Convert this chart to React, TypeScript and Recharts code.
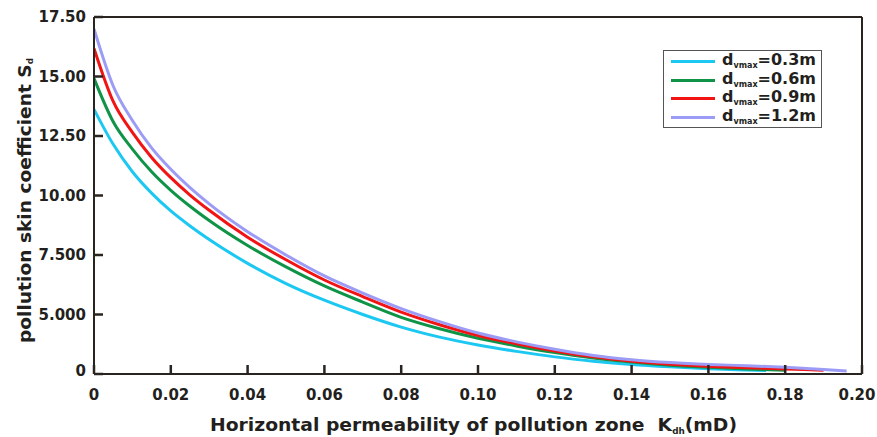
import React from 'react';
import { LineChart, Line, XAxis, YAxis, Legend, Label, ReferenceLine } from 'recharts';

// ---- axis ticks ----
const X_TICKS = [0, 0.02, 0.04, 0.06, 0.08, 0.1, 0.12, 0.14, 0.16, 0.18, 0.2];
const X_TICK_LABELS = ['0', '0.02', '0.04', '0.06', '0.08', '0.10', '0.12', '0.14', '0.16', '0.18', '0.20'];
const Y_TICKS = [2.5, 5, 7.5, 10, 12.5, 15, 17.5];
const Y_TICK_LABELS = ['0', '5.000', '7.500', '10.00', '12.50', '15.00', '17.50'];

// ---- series: Kdh (mD) and Sd ----
const K_03 = [0, 0.005, 0.01, 0.015, 0.02, 0.025, 0.03, 0.04, 0.05, 0.06, 0.07, 0.08, 0.09, 0.1, 0.11, 0.12, 0.13, 0.14, 0.15, 0.16, 0.17, 0.175];
const S_03 = [13.62, 12.15, 11.0, 10.1, 9.35, 8.72, 8.15, 7.15, 6.3, 5.6, 5.0, 4.47, 4.05, 3.72, 3.45, 3.22, 3.04, 2.9, 2.8, 2.72, 2.67, 2.65];

const K_06 = [0, 0.005, 0.01, 0.015, 0.02, 0.025, 0.03, 0.04, 0.05, 0.06, 0.07, 0.08, 0.09, 0.1, 0.11, 0.12, 0.13, 0.14, 0.15, 0.16, 0.17, 0.18];
const S_06 = [14.92, 13.1, 11.95, 11.0, 10.22, 9.55, 8.95, 7.9, 7.0, 6.2, 5.52, 4.88, 4.4, 4.0, 3.68, 3.4, 3.17, 3.0, 2.87, 2.78, 2.71, 2.66];

const K_09 = [0, 0.005, 0.01, 0.015, 0.02, 0.025, 0.03, 0.04, 0.05, 0.06, 0.07, 0.08, 0.09, 0.1, 0.11, 0.12, 0.13, 0.14, 0.15, 0.16, 0.17, 0.18, 0.19];
const S_09 = [16.18, 13.95, 12.65, 11.6, 10.75, 10.02, 9.38, 8.25, 7.3, 6.45, 5.75, 5.1, 4.57, 4.12, 3.77, 3.47, 3.22, 3.04, 2.91, 2.82, 2.76, 2.71, 2.66];

const K_12 = [0, 0.005, 0.01, 0.015, 0.02, 0.025, 0.03, 0.04, 0.05, 0.06, 0.07, 0.08, 0.09, 0.1, 0.11, 0.12, 0.13, 0.14, 0.15, 0.16, 0.17, 0.18, 0.19, 0.196];
const S_12 = [17.0, 14.6, 13.15, 12.0, 11.1, 10.33, 9.65, 8.48, 7.5, 6.62, 5.9, 5.25, 4.7, 4.22, 3.85, 3.54, 3.28, 3.1, 2.98, 2.9, 2.85, 2.78, 2.69, 2.63];

const LEGEND_VALUES = ['0.3m', '0.6m', '0.9m', '1.2m'];
const COLORS = ['#1cc8f2', '#0f9447', '#f21414', '#9c9cf6'];

const toPoints = (k: number[], s: number[]) => k.map((x, i) => ({ x, y: s[i] }));
const SERIES = [
  { name: 'dvmax=0.3m', data: toPoints(K_03, S_03), color: COLORS[0], label: LEGEND_VALUES[0] },
  { name: 'dvmax=0.6m', data: toPoints(K_06, S_06), color: COLORS[1], label: LEGEND_VALUES[1] },
  { name: 'dvmax=0.9m', data: toPoints(K_09, S_09), color: COLORS[2], label: LEGEND_VALUES[2] },
  { name: 'dvmax=1.2m', data: toPoints(K_12, S_12), color: COLORS[3], label: LEGEND_VALUES[3] },
];

const AXIS = '#2a2421';
const TEXT = '#231f1d';
const FONT = '"DejaVu Sans", sans-serif';
const X_MARGIN = 15;
const Y_MARGIN = 8;

const XTick = (props: any) => {
  const { x, y, payload } = props;
  const axisY = y - X_MARGIN;
  const idx = X_TICKS.findIndex((t) => Math.abs(t - payload.value) < 1e-9);
  const last = idx === X_TICKS.length - 1;
  return (
    <g>
      <line x1={x} x2={x} y1={axisY} y2={axisY - 9} stroke={AXIS} strokeWidth={2.5} />
      <text x={last ? x - 5 : x} y={y} dy="0.71em" textAnchor="middle" fontFamily={FONT} fontWeight="bold" fontSize={15} fill={TEXT}>
        {idx >= 0 ? X_TICK_LABELS[idx] : ''}
      </text>
    </g>
  );
};

const YTick = (props: any) => {
  const { x, y, payload } = props;
  const axisX = x + Y_MARGIN;
  const idx = Y_TICKS.findIndex((t) => Math.abs(t - payload.value) < 1e-9);
  return (
    <g>
      <line x1={axisX} x2={axisX + 9} y1={y} y2={y} stroke={AXIS} strokeWidth={2.5} />
      <text x={x} y={idx === 0 ? y - 3 : y} dy="0.36em" textAnchor="end" fontFamily={FONT} fontWeight="bold" fontSize={15} fill={TEXT}>
        {idx >= 0 ? Y_TICK_LABELS[idx] : ''}
      </text>
    </g>
  );
};

const XTitle = () => (
  <text x={210} y={431} textLength={527} lengthAdjust="spacingAndGlyphs" fontFamily={FONT} fontWeight="bold" fontSize={17} fill={TEXT}>
    Horizontal permeability of pollution zone{'\u00a0\u00a0'}K
    <tspan fontSize={8} dy={3}>dh</tspan>
    <tspan dy={-3}>(mD)</tspan>
  </text>
);

const YTitle = () => (
  <text
    x={0}
    y={0}
    transform="translate(31,343) rotate(-90)"
    textLength={285}
    lengthAdjust="spacingAndGlyphs"
    fontFamily={FONT}
    fontWeight="bold"
    fontSize={17}
    fill={TEXT}
  >
    pollution skin coefficient S
    <tspan fontSize={8} dy={2}>d</tspan>
  </text>
);

const LegendBox = () => (
  <div
    style={{
      border: '1.5px solid #555',
      background: '#fff',
      width: 159,
      height: 78,
      boxSizing: 'border-box',
      padding: '1px 0 0 7px',
      fontFamily: FONT,
    }}
  >
    {SERIES.map((s) => (
      <div key={s.name} style={{ display: 'flex', alignItems: 'center', height: 18.7 }}>
        <span style={{ display: 'inline-block', width: 44, height: 3, background: s.color, marginRight: 7 }} />
        <span style={{ fontWeight: 'bold', fontSize: 16, color: TEXT, whiteSpace: 'nowrap', lineHeight: '18px' }}>
          d<span style={{ fontSize: 8, position: 'relative', top: 3 }}>vmax</span>={s.label}
        </span>
      </div>
    ))}
  </div>
);

export default function App() {
  return (
    <div style={{ position: 'absolute', left: 0, top: 0, width: 877, height: 437, background: '#fff' }}>
      <LineChart width={877} height={437} margin={{ top: 17, right: 15, left: 34, bottom: 0 }}>
        <XAxis
          dataKey="x"
          type="number"
          domain={[0, 0.2]}
          ticks={X_TICKS}
          interval={0}
          height={63}
          tickSize={0}
          tickMargin={X_MARGIN}
          tick={<XTick />}
          tickLine={false}
          axisLine={{ stroke: AXIS, strokeWidth: 2 }}
          allowDataOverflow
        >
          <Label content={<XTitle />} />
        </XAxis>
        <YAxis
          type="number"
          domain={[2.5, 17.5]}
          ticks={Y_TICKS}
          interval={0}
          width={60}
          tickSize={0}
          tickMargin={Y_MARGIN}
          tick={<YTick />}
          tickLine={false}
          axisLine={{ stroke: AXIS, strokeWidth: 2 }}
          allowDataOverflow
        >
          <Label content={<YTitle />} />
        </YAxis>
        <ReferenceLine y={17.5} stroke={AXIS} strokeWidth={2} ifOverflow="visible" />
        <ReferenceLine x={0.2} stroke={AXIS} strokeWidth={2} ifOverflow="visible" />
        <Legend
          layout="vertical"
          align="center"
          verticalAlign="middle"
          content={<LegendBox />}
          wrapperStyle={{ left: 663, top: 50, width: 159, height: 78 }}
        />
        {SERIES.map((s) => (
          <Line
            key={s.name}
            name={s.name}
            data={s.data}
            dataKey="y"
            type="monotone"
            stroke={s.color}
            strokeWidth={3}
            dot={false}
            activeDot={false}
            isAnimationActive={false}
          />
        ))}
      </LineChart>
    </div>
  );
}
